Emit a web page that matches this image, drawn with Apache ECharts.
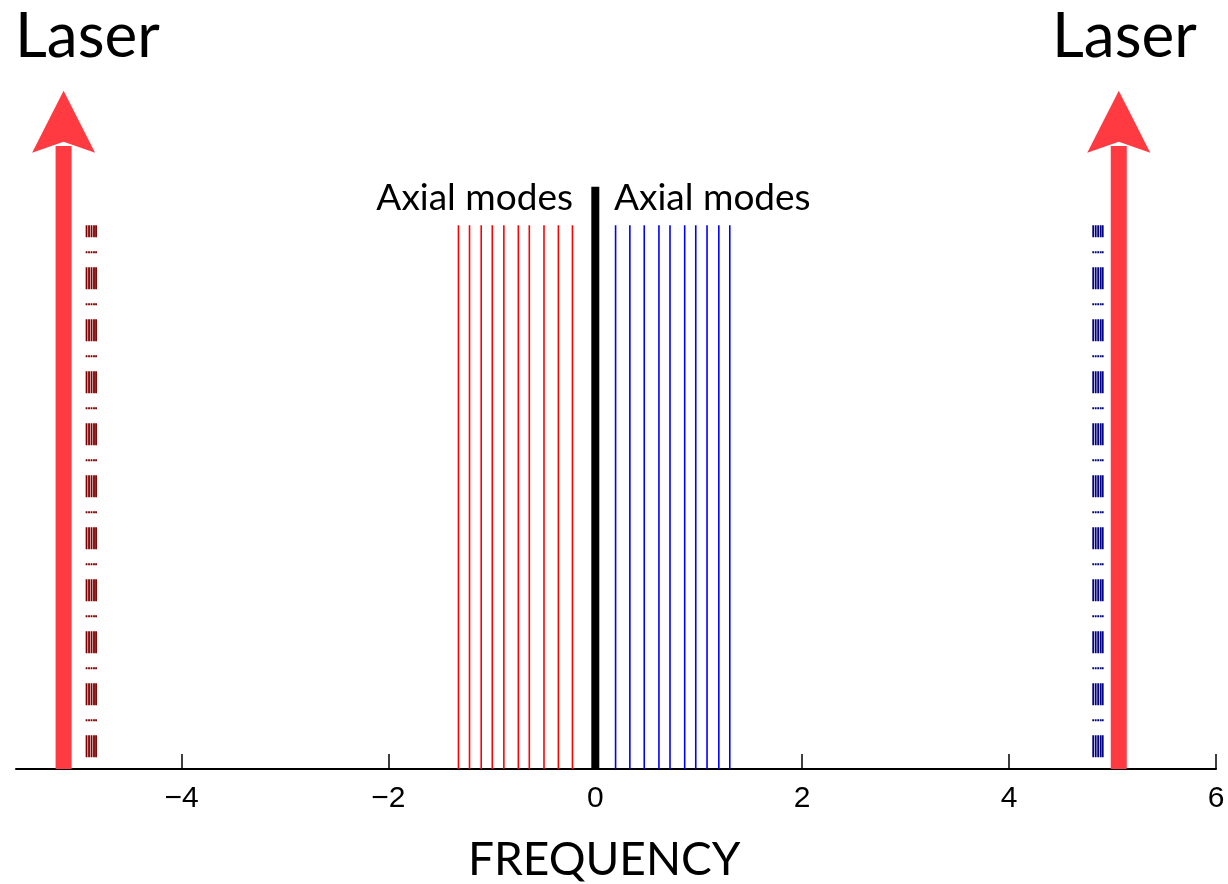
<!DOCTYPE html>
<html>
<head>
<meta charset="utf-8">
<title>Laser axial modes</title>
<script src="https://cdn.jsdelivr.net/npm/echarts@6/dist/echarts.min.js"></script>
<style>
  html, body { margin: 0; padding: 0; background: #fff; }
</style>
</head>
<body>
<div id="main" style="width: 1228px;height:884px;"></div>
<script type="text/javascript">
    // values (frequency units)
    var tickValues = [-4, -2, 0, 2, 4, 6];
    var redModes = [-1.323, -1.216, -1.103, -0.996, -0.884, -0.744, -0.638, -0.496, -0.357, -0.221];
    var blueModes = [0.196, 0.334, 0.473, 0.615, 0.722, 0.864, 0.971, 1.080, 1.194, 1.300];
    var leftSideband = [-4.918, -4.894, -4.870, -4.846, -4.826];
    var rightSideband = [4.813, 4.837, 4.861, 4.885, 4.905];
    var laserLines = [-5.14, 5.06];
    var centerLine = 0;
    // heights (relative)
    var modeHeight = 0.707;
    var centerHeight = 0.757;
    var shaftHeight = 0.81;
    var arrowTip = 0.882;

    var laserColor = '#ff3a40';
    var arrowPath = 'path://M32,0 L64,62 L32,51 L0,62 Z';

    function vline(x, top, color, width, dash) {
        return {
            type: 'line',
            silent: true,
            symbol: 'none',
            data: [[x, top], [x, 0]],
            lineStyle: {
                color: color,
                width: width,
                type: dash || 'solid',
                dashOffset: dash ? 10 : 0,
                cap: 'butt',
                opacity: 1
            },
            z: 2
        };
    }

    function initChart() {
        var myChart = echarts.init(document.getElementById('main'));
        var series = [];

        leftSideband.forEach(function (x) {
            series.push(vline(x, modeHeight, '#800000', 1.8, [22, 14, 2, 14]));
        });
        rightSideband.forEach(function (x) {
            series.push(vline(x, modeHeight, '#000080', 1.8, [22, 14, 2, 14]));
        });
        redModes.forEach(function (x) {
            series.push(vline(x, modeHeight, '#ff0000', 1.6));
        });
        blueModes.forEach(function (x) {
            series.push(vline(x, modeHeight, '#0000ff', 1.6));
        });
        series.push(vline(centerLine, centerHeight, '#000000', 8));

        laserLines.forEach(function (x) {
            series.push(vline(x, shaftHeight, laserColor, 16));
        });
        series.push({
            type: 'scatter',
            silent: true,
            symbol: arrowPath,
            symbolSize: [63, 62],
            symbolOffset: [0, '50%'],
            itemStyle: { color: laserColor, opacity: 1 },
            data: laserLines.map(function (x) { return [x, arrowTip]; }),
            z: 3
        });

        var option = {
            animation: false,
            grid: {
                left: 16,
                right: 12,
                top: 0,
                bottom: 115,
                outerBoundsMode: 'none'
            },
            xAxis: {
                type: 'value',
                min: -5.6,
                max: 6,
                splitLine: { show: false },
                axisLine: {
                    onZero: false,
                    lineStyle: { color: '#000', width: 2 }
                },
                axisTick: {
                    inside: true,
                    length: 15,
                    customValues: tickValues,
                    lineStyle: { color: '#000', width: 1.5 }
                },
                axisLabel: {
                    customValues: tickValues,
                    margin: 15,
                    color: '#000',
                    fontSize: 30,
                    fontFamily: 'Liberation Sans',
                    formatter: function (v) {
                        return String(v).replace('-', '\u2212');
                    }
                }
            },
            yAxis: {
                type: 'value',
                min: 0,
                max: 1,
                show: false
            },
            graphic: [
                {
                    type: 'text', left: 15, top: 6,
                    style: { text: 'Laser', fontSize: 62, fontFamily: 'Lato', fill: '#000' }
                },
                {
                    type: 'text', left: 1052, top: 6,
                    style: { text: 'Laser', fontSize: 62, fontFamily: 'Lato', fill: '#000' }
                },
                {
                    type: 'text', right: 655, top: 180,
                    style: { text: 'Axial modes', fontSize: 37, fontFamily: 'Lato', fill: '#000' }
                },
                {
                    type: 'text', left: 614, top: 180,
                    style: { text: 'Axial modes', fontSize: 37, fontFamily: 'Lato', fill: '#000' }
                },
                {
                    type: 'text', left: 468, top: 837,
                    style: { text: 'FREQUENCY', fontSize: 46, fontFamily: 'Lato', fill: '#000' }
                }
            ],
            series: series
        };

        myChart.setOption(option);
    }

    initChart();
</script>
</body>
</html>
